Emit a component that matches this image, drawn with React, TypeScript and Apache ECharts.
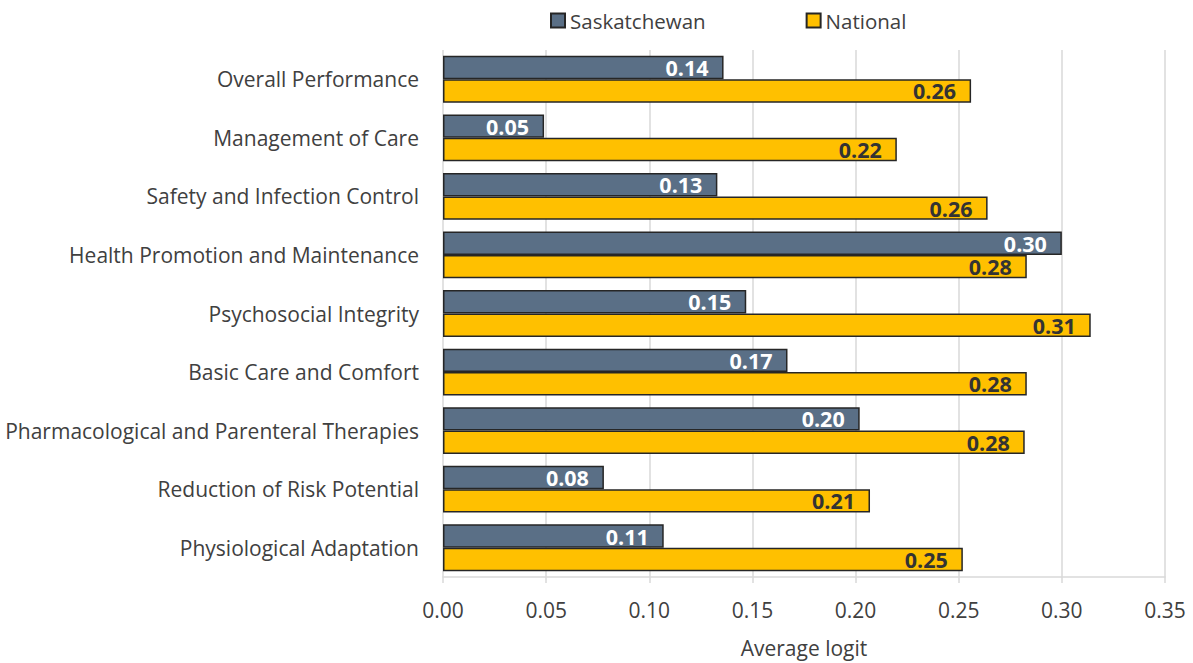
import React, { useEffect, useRef } from "react";
import * as echarts from "echarts";

const categories = [
  "Overall Performance",
  "Management of Care",
  "Safety and Infection Control",
  "Health Promotion and Maintenance",
  "Psychosocial Integrity",
  "Basic Care and Comfort",
  "Pharmacological and Parenteral Therapies",
  "Reduction of Risk Potential",
  "Physiological Adaptation",
];
const saskatchewan = [0.136, 0.049, 0.133, 0.3, 0.147, 0.167, 0.202, 0.078, 0.107];
const national = [0.256, 0.22, 0.264, 0.283, 0.314, 0.283, 0.282, 0.207, 0.252];
const xTicks = { min: 0, max: 0.35, interval: 0.05 };

const FONT = "Open Sans";

export default function App() {
  const ref = useRef<HTMLDivElement>(null);
  useEffect(() => {
    if (!ref.current) return;
    const chart = echarts.init(ref.current, null, { renderer: "svg" });
    const labelCommon = {
      show: true,
      position: "insideRight",
      fontFamily: FONT,
      fontWeight: "bold",
      fontSize: 21.5,
      distance: 15,
      formatter: (p: any) => p.value.toFixed(2),
    };
    chart.setOption({
      animation: false,
      textStyle: { fontFamily: FONT },
      legend: {
        top: 5,
        left: 545,
        itemWidth: 14,
        itemHeight: 14,
        itemGap: 100,
        icon: "rect",
        textStyle: { fontSize: 20.5, color: "#404040", fontFamily: FONT },
        data: ["Saskatchewan", "National"],
      },
      grid: { left: 443, right: 28, top: 50, bottom: 82, containLabel: false },
      xAxis: {
        type: "value",
        min: xTicks.min,
        max: xTicks.max,
        interval: xTicks.interval,
        name: "Average logit",
        nameLocation: "middle",
        nameGap: 60,
        nameTextStyle: { fontSize: 21, color: "#404040", fontFamily: FONT },
        axisLabel: {
          fontSize: 21,
          color: "#404040",
          margin: 22,
          formatter: (v: number) => v.toFixed(2),
        },
        axisLine: { show: true, lineStyle: { color: "#d9d9d9", width: 1.5 } },
        axisTick: { show: true, length: 6, lineStyle: { color: "#d9d9d9", width: 1.5 } },
        splitLine: { show: true, lineStyle: { color: "#d9d9d9", width: 1.5 } },
      },
      yAxis: {
        type: "category",
        data: categories,
        inverse: true,
        axisLine: { show: false },
        axisTick: { show: false },
        axisLabel: { fontSize: 21, color: "#404040", margin: 24 },
      },
      series: [
        {
          name: "Saskatchewan",
          type: "bar",
          data: saskatchewan,
          barGap: "0%",
          barCategoryGap: "20%",
          itemStyle: { color: "#5a6f86", borderColor: "#262626", borderWidth: 1.5 },
          label: { ...labelCommon, color: "#ffffff" },
        },
        {
          name: "National",
          type: "bar",
          data: national,
          barGap: "0%",
          barCategoryGap: "20%",
          itemStyle: { color: "#ffc000", borderColor: "#262626", borderWidth: 1.5 },
          label: { ...labelCommon, color: "#333333" },
        },
      ],
    });
    return () => chart.dispose();
  }, []);
  return <div ref={ref} style={{ width: 1193, height: 663, position: "absolute", left: 0, top: 0 }} />;
}
